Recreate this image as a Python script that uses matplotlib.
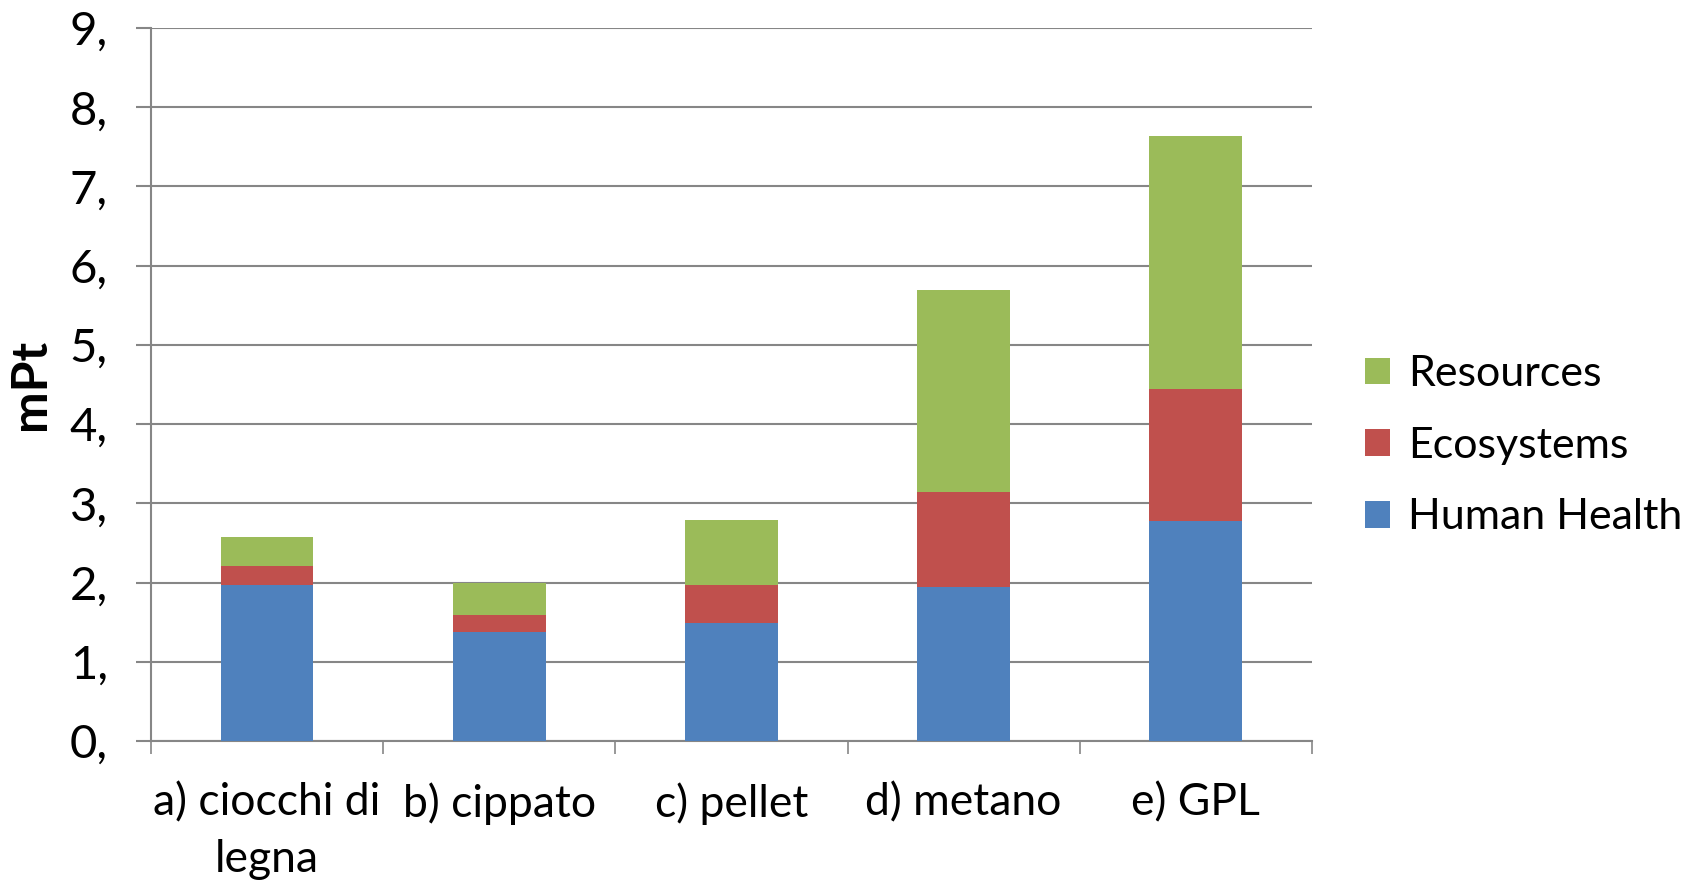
import numpy as np
import matplotlib
matplotlib.use('Agg')
import matplotlib.pyplot as plt

plt.rcParams['font.family'] = ['Lato', 'DejaVu Sans']

# data (mPt)
categories = ['a) ciocchi di\nlegna', 'b) cippato', 'c) pellet', 'd) metano', 'e) GPL']
human_health = [1.97, 1.38, 1.49, 1.94, 2.78]
ecosystems = [0.24, 0.21, 0.48, 1.20, 1.66]
resources = [0.36, 0.41, 0.82, 2.55, 3.20]
y_ticks = [0, 1, 2, 3, 4, 5, 6, 7, 8, 9]
y_tick_labels = ['0,', '1,', '2,', '3,', '4,', '5,', '6,', '7,', '8,', '9,']

fig = plt.figure(figsize=(16.92, 8.86), dpi=100)
ax = fig.add_axes([0.0892, 0.1637, 0.6862, 0.8047])

x = np.arange(len(categories))
hh = np.array(human_health)
eco = np.array(ecosystems)
res = np.array(resources)
w = 0.4

b1 = ax.bar(x, hh, w, color='#4F81BD', label='Human Health', zorder=3)
b2 = ax.bar(x, eco, w, bottom=hh, color='#C0504D', label='Ecosystems', zorder=3)
b3 = ax.bar(x, res, w, bottom=hh + eco, color='#9BBB59', label='Resources', zorder=3)

ax.set_xlim(-0.5, len(categories) - 0.5)
ax.set_ylim(0, 9)
ax.set_yticks(y_ticks)
ax.set_yticklabels(y_tick_labels)
ax.yaxis.grid(True, color='#868686', linewidth=1.5, zorder=0)

ax.set_xticks(x)
ax.set_xticklabels(categories, linespacing=1.45)
ax.set_xticks(np.arange(-0.5, len(categories), 1.0), minor=True)
ax.tick_params(axis='x', which='major', length=0, pad=30, labelsize=32)
ax.tick_params(axis='x', which='minor', length=9, width=1.2, color='#868686', direction='out')
ax.tick_params(axis='y', length=11, width=1.5, color='#868686', pad=20, labelsize=34)

for s in ['top', 'right']:
    ax.spines[s].set_visible(False)
ax.spines['left'].set_color('#868686')
ax.spines['left'].set_linewidth(1.5)
ax.spines['bottom'].set_color('#868686')
ax.spines['bottom'].set_linewidth(1.5)

ax.set_ylabel('mPt', fontsize=36, fontweight='bold', labelpad=12)

ax.legend(handles=[b3, b2, b1], loc='center left', bbox_to_anchor=(1.012, 0.414),
          frameon=False, fontsize=31, handlelength=0.58, handleheight=0.58,
          handletextpad=0.42, labelspacing=0.78)

fig.savefig('out.png', dpi=100)
